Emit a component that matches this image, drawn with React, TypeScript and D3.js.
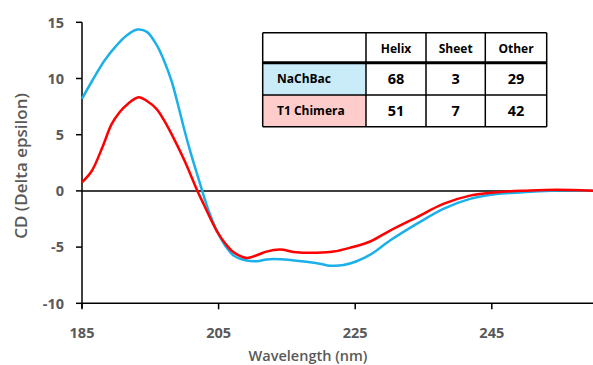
import React from "react";
import * as d3 from "d3";

const nachbacNm = [185, 186.5, 188.3, 190, 191.5, 193.1, 194.5, 196.1, 197, 198.1, 199, 200, 201, 202, 202.6, 203.5, 204.7, 206, 207.2, 209.1, 210.6, 212, 213, 215.5, 218.4, 220, 221.3, 223.3, 225.2, 227.2, 230.1, 234, 237.9, 241.8, 245.7, 249.6, 254.5, 260];
const nachbacCD = [8.2, 9.8, 11.6, 12.9, 13.8, 14.35, 14.15, 12.8, 11.6, 9.8, 7.8, 5.4, 3.2, 1.2, 0, -1.7, -3.5, -4.9, -5.75, -6.2, -6.26, -6.1, -6.05, -6.14, -6.35, -6.5, -6.65, -6.6, -6.26, -5.67, -4.42, -2.94, -1.6, -0.71, -0.27, -0.12, 0.03, 0];

const chimeraNm = [185, 186.4, 188, 189.3, 190.5, 191.7, 193.3, 194.5, 195.9, 197, 198.1, 200, 201.9, 202.8, 204.7, 206, 207.2, 209.1, 210.5, 212, 214, 216.4, 219.4, 221.8, 224.2, 227.2, 230.1, 234, 237.9, 241.8, 245.7, 250, 254.5, 260];
const chimeraCD = [0.77, 1.75, 3.9, 5.9, 7.0, 7.74, 8.33, 8.0, 7.3, 6.3, 5.07, 2.7, 0, -1.16, -3.53, -4.7, -5.46, -5.96, -5.75, -5.4, -5.22, -5.46, -5.5, -5.4, -5.07, -4.5, -3.53, -2.35, -1.16, -0.42, -0.12, 0.02, 0.1, 0];

const xTicks = [185, 205, 225, 245];
const yTicks = [15, 10, 5, 0, -5, -10];

const tableHeaders = ["Helix", "Sheet", "Other"];
const tableRows = ["NaChBac", "T1 Chimera"];
const tableValues = [
  [68, 3, 29],
  [51, 7, 42],
];
const rowFills = ["#c9ecf8", "#ffcccc"];

const W = 593;
const H = 365;

export default function App() {
  const x = d3.scaleLinear().domain([185, 260]).range([82, 594.25]);
  const y = d3.scaleLinear().domain([-10, 15]).range([303.3, 22.3]);

  const line = d3
    .line<[number, number]>()
    .x((d) => x(d[0]))
    .y((d) => y(d[1]))
    .curve(d3.curveCatmullRom.alpha(0.5));

  const blue = nachbacNm.map((n, i) => [n, nachbacCD[i]] as [number, number]);
  const red = chimeraNm.map((n, i) => [n, chimeraCD[i]] as [number, number]);

  const font = "'Open Sans', 'Noto Sans', sans-serif";
  const grey = "#595959";

  const colX = [262.7, 366, 426, 485.3, 546.7];
  const rowY = [32.7, 62.7, 95, 126.7];

  return (
    <svg width={W} height={H} style={{ display: "block", position: "absolute", left: 0, top: 0 }}>
      <rect width={W} height={H} fill="#fff" />
      <line x1={x(185)} x2={W} y1={y(0)} y2={y(0)} stroke="#000" strokeWidth={1.5} />
      <line x1={x(185)} x2={W} y1={y(-10)} y2={y(-10)} stroke="#000" strokeWidth={1.5} />
      <line x1={x(185)} x2={x(185)} y1={y(15)} y2={y(-10) + 5} stroke="#000" strokeWidth={1.5} />
      {yTicks.map((t) => (
        <g key={"y" + t}>
          <line x1={x(185) - 6} x2={x(185)} y1={y(t)} y2={y(t)} stroke="#000" strokeWidth={1.5} />
          <text x={64} y={y(t)} dy="0.36em" textAnchor="end" fontFamily={font} fontWeight={700} fontSize={14.5} fill={grey}>
            {t}
          </text>
        </g>
      ))}
      {xTicks.map((t) => (
        <g key={"x" + t}>
          <line x1={x(t)} x2={x(t)} y1={y(-10)} y2={y(-10) + 6} stroke="#000" strokeWidth={1.5} />
          <text x={x(t)} y={333} dy="0.36em" textAnchor="middle" fontFamily={font} fontWeight={700} fontSize={14.5} fill={grey}>
            {t}
          </text>
        </g>
      ))}
      <text x={308} y={356} dy="0.35em" textAnchor="middle" fontFamily={font} fontWeight={600} fontSize={14.5} fill={grey}>
        Wavelength (nm)
      </text>
      <text
        transform={`translate(21,166) rotate(-90)`}
        dy="0.35em"
        textAnchor="middle"
        fontFamily={font}
        fontWeight={600}
        fontSize={17}
        fill={grey}
      >
        CD (Delta epsilon)
      </text>

      <path d={line(blue) || ""} fill="none" stroke="#1cb0ea" strokeWidth={2.5} />
      <path d={line(red) || ""} fill="none" stroke="#ff0000" strokeWidth={2.5} />

      <g>
        <rect x={colX[0]} y={rowY[0]} width={colX[4] - colX[0]} height={rowY[3] - rowY[0]} fill="#fff" />
        {tableRows.map((r, i) => (
          <rect key={"f" + r} x={colX[0]} y={rowY[i + 1]} width={colX[1] - colX[0]} height={rowY[i + 2] - rowY[i + 1]} fill={rowFills[i]} />
        ))}
        {colX.map((cx, i) => (
          <line key={"c" + i} x1={cx} x2={cx} y1={rowY[0]} y2={rowY[3]} stroke="#000" strokeWidth={1.5} />
        ))}
        {rowY.map((ry, i) => (
          <line key={"r" + i} x1={colX[0]} x2={colX[4]} y1={ry} y2={ry} stroke="#000" strokeWidth={i === 1 ? 3 : 1.5} />
        ))}
        {tableHeaders.map((h, j) => (
          <text key={h} x={(colX[j + 1] + colX[j + 2]) / 2} y={(rowY[0] + rowY[1]) / 2 + 1} dy="0.35em" textAnchor="middle" fontFamily={font} fontWeight={700} fontSize={12} fill="#000">
            {h}
          </text>
        ))}
        {tableRows.map((r, i) => (
          <g key={r}>
            <text x={277} y={(rowY[i + 1] + rowY[i + 2]) / 2} dy="0.35em" fontFamily={font} fontWeight={700} fontSize={12} fill="#000">
              {r}
            </text>
            {tableValues[i].map((v, j) => (
              <text key={j} x={(colX[j + 1] + colX[j + 2]) / 2} y={(rowY[i + 1] + rowY[i + 2]) / 2} dy="0.35em" textAnchor="middle" fontFamily={font} fontWeight={700} fontSize={14.5} fill="#000">
                {v}
              </text>
            ))}
          </g>
        ))}
      </g>
    </svg>
  );
}
